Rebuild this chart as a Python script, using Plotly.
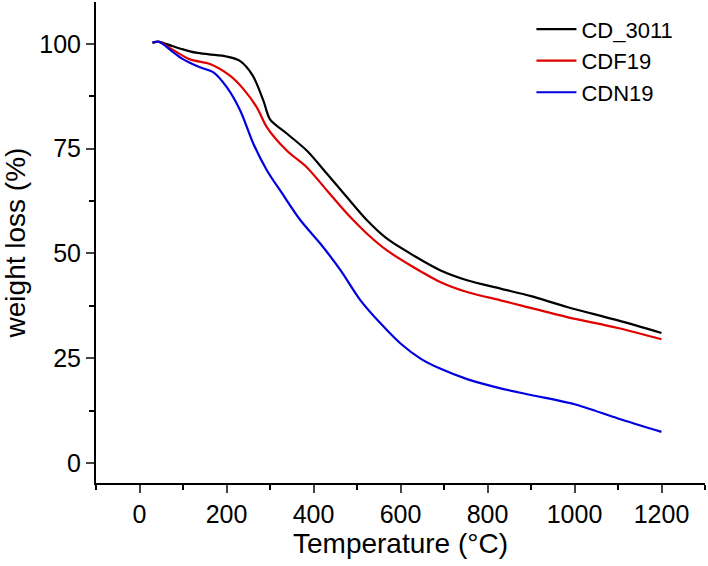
import plotly.graph_objects as go

temp_black = [30, 45, 75, 100, 130, 160, 200, 230, 260, 285, 300, 340, 385, 431, 477, 523, 569, 630, 691, 753, 830, 900, 983, 1100, 1200]
w_black = [100.3, 100.5, 99.5, 98.7, 97.9, 97.5, 97.0, 96.0, 92.5, 86.4, 82.0, 78.5, 74.5, 69.0, 63.4, 57.9, 53.5, 49.5, 46.0, 43.6, 41.6, 39.8, 37.2, 34.0, 31.0]

temp_red = [30, 45, 75, 116, 162, 208, 239, 270, 293, 339, 385, 431, 477, 523, 569, 630, 691, 753, 830, 876, 983, 1100, 1200]
w_red = [100.3, 100.5, 98.7, 96.3, 95.2, 92.4, 89.2, 84.8, 80.1, 74.5, 70.5, 65.0, 59.5, 54.7, 50.7, 46.7, 43.2, 40.8, 38.8, 37.6, 34.8, 32.2, 29.5]

temp_blue = [30, 45, 74, 101, 139, 170, 201, 232, 262, 293, 328, 370, 416, 462, 508, 554, 600, 646, 691, 753, 830, 900, 1000, 1100, 1200]
w_blue = [100.3, 100.5, 98.3, 96.3, 94.4, 93.2, 89.6, 84.0, 76.1, 69.8, 64.3, 57.9, 52.3, 46.0, 38.8, 33.3, 28.5, 24.9, 22.5, 20.0, 17.8, 16.2, 14.0, 10.6, 7.4]

names = ["CD_3011", "CDF19", "CDN19"]
colors = ["#000000", "#E00000", "#0000E0"]

fig = go.Figure()
for t, w, n, c in zip([temp_black, temp_red, temp_blue], [w_black, w_red, w_blue], names, colors):
    fig.add_trace(go.Scatter(x=t, y=w, mode="lines", name=n,
                             line=dict(color=c, width=2.2, shape="spline", smoothing=0.8)))

font = "Liberation Sans, Arial, sans-serif"
fig.update_layout(
    width=708, height=566,
    margin=dict(l=96, r=3, t=2, b=83),
    plot_bgcolor="white", paper_bgcolor="white",
    font=dict(family=font, size=25, color="black"),
    showlegend=True,
    legend=dict(x=0.715, y=0.987, xanchor="left", yanchor="top",
                bgcolor="rgba(0,0,0,0)", font=dict(size=22), tracegroupgap=0,
                itemwidth=40),
    xaxis=dict(range=[-100, 1300], tickvals=[0, 200, 400, 600, 800, 1000, 1200],
               ticks="outside", ticklen=8, tickwidth=2, showline=True, linewidth=2,
               linecolor="black", showgrid=False, zeroline=False, mirror=False,
               minor=dict(tickvals=[-100, 100, 300, 500, 700, 900, 1100, 1300], ticks="outside", ticklen=5, tickwidth=2, tickcolor="black"),
               title=dict(text="Temperature (°C)", font=dict(size=28), standoff=6),
               tickfont=dict(size=25)),
    yaxis=dict(range=[-4.8, 110], tickvals=[0, 25, 50, 75, 100],
               ticks="outside", ticklen=8, tickwidth=2, showline=True, linewidth=2,
               linecolor="black", showgrid=False, zeroline=False, mirror=False,
               minor=dict(tickvals=[12.5, 37.5, 62.5, 87.5], ticks="outside", ticklen=5, tickwidth=2, tickcolor="black"),
               title=dict(text="weight loss (%)", font=dict(size=28), standoff=8),
               tickfont=dict(size=25)),
)
fig.write_html("out.html", config={"displayModeBar": False},
               post_script="document.body.style.margin='0';")
